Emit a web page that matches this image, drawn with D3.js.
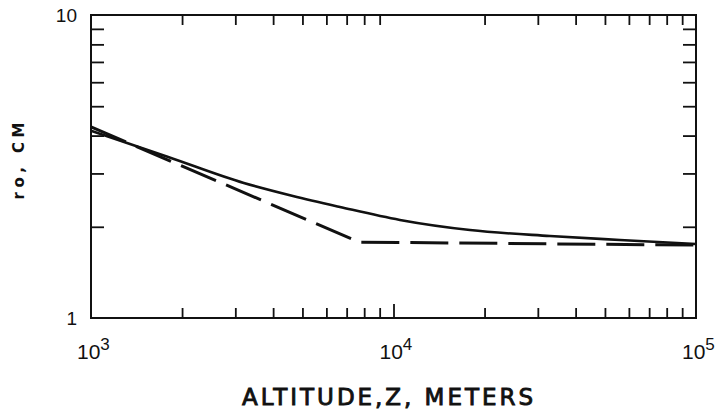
<!DOCTYPE html>
<html>
<head>
<meta charset="utf-8">
<script src="https://cdn.jsdelivr.net/npm/d3@7"></script>
<style>
  body { margin: 0; background: #fff; }
  svg { display: block; }
</style>
</head>
<body>
<div class="chart"></div>
<script>
// solid curve
const solidZ = [1000, 1800, 3200, 4650, 6650, 10500, 17900, 32900, 56100, 100000];
const solidR = [4.15, 3.40, 2.79, 2.527, 2.325, 2.106, 1.951, 1.865, 1.809, 1.755];
// dashed curve
const dashZ = [1000, 7700, 100000];
const dashR = [4.27, 1.78, 1.74];

const xMajor = [1e3, 1e4, 1e5];
const xExp = ["3", "4", "5"];
const yMajor = [1, 10];
const yMajorLabels = ["1", "10"];
const xMinor = [2000, 3000, 4000, 5000, 6000, 7000, 8000, 9000,
                20000, 30000, 40000, 50000, 60000, 70000, 80000, 90000];
const yMinor = [2, 3, 4, 5, 6, 7, 8, 9];

const W = 716, H = 415;
const plotL = 91, plotR = 696, plotT = 15, plotB = 318;

let x = d3.scaleLog().domain([1e3, 1e5]).range([plotL, plotR]);
let y = d3.scaleLog().domain([1, 10]).range([plotB, plotT]);

let svg = d3.select('.chart').append('svg').attr('width', W).attr('height', H);

// frame
svg.append('rect').attr('x', plotL).attr('y', plotT)
    .attr('width', plotR - plotL).attr('height', plotB - plotT)
    .attr('fill', 'none').attr('stroke', '#111').attr('stroke-width', 2);

function styleAxis(g){
    g.select('.domain').remove();
    g.selectAll('.tick line').attr('stroke', '#111').attr('stroke-width', 1.8);
}

// minor ticks, all pointing inward
svg.append('g').attr('transform', `translate(0,${plotB})`)
    .call(d3.axisBottom(x).tickValues(xMinor).tickSizeInner(-10).tickSizeOuter(0).tickFormat(''))
    .call(styleAxis);
svg.append('g').attr('transform', `translate(0,${plotT})`)
    .call(d3.axisTop(x).tickValues(xMinor).tickSizeInner(-10).tickSizeOuter(0).tickFormat(''))
    .call(styleAxis);
svg.append('g').attr('transform', `translate(0,${plotB})`)
    .call(d3.axisBottom(x).tickValues([1e4]).tickSizeInner(-14).tickSizeOuter(0).tickFormat(''))
    .call(styleAxis);
svg.append('g').attr('transform', `translate(${plotL},0)`)
    .call(d3.axisLeft(y).tickValues(yMinor).tickSizeInner(-13).tickSizeOuter(0).tickFormat(''))
    .call(styleAxis);
svg.append('g').attr('transform', `translate(${plotR},0)`)
    .call(d3.axisRight(y).tickValues(yMinor).tickSizeInner(-13).tickSizeOuter(0).tickFormat(''))
    .call(styleAxis);

// tick labels
let font = "'Liberation Sans', Arial, sans-serif";
xMajor.forEach((v, i) => {
    let t = svg.append('text').attr('x', x(v) - 14).attr('y', 359)
        .style('font-family', font).style('font-size', '21px').attr('fill', '#111');
    t.append('tspan').text('10');
    t.append('tspan').attr('dy', -9).style('font-size', '17px').text(xExp[i]);
});
yMajor.forEach((v, i) => {
    svg.append('text').attr('x', plotL - 14).attr('y', y(v) + 7)
        .attr('text-anchor', 'end')
        .style('font-family', font).style('font-size', '19px').attr('fill', '#111')
        .text(yMajorLabels[i]);
});

// axis titles
svg.append('text').attr('x', 242).attr('y', 405)
    .attr('textLength', 291).attr('lengthAdjust', 'spacing')
    .style('font-family', "'DejaVu Sans', sans-serif")
    .style('font-size', '23px').attr('fill', '#111')
    .attr('stroke', '#111').attr('stroke-width', 0.9)
    .text('ALTITUDE,Z, METERS');

svg.append('text').attr('transform', 'translate(24,161) rotate(-90)')
    .attr('text-anchor', 'middle')
    .attr('textLength', 77).attr('lengthAdjust', 'spacing')
    .style('font-family', "'DejaVu Sans', sans-serif").style('font-weight', 'bold')
    .style('font-size', '15px').attr('fill', '#111')
    .text('ro, CM');

// curves
let line = d3.line().x(d => x(d[0])).y(d => y(d[1]));

svg.append('path').datum(solidZ.map((z, i) => [z, solidR[i]]))
    .attr('d', line.curve(d3.curveMonotoneX))
    .attr('fill', 'none').attr('stroke', '#111').attr('stroke-width', 2.6);

svg.append('path').datum(dashZ.map((z, i) => [z, dashR[i]]))
    .attr('d', d3.line().x(d => x(d[0])).y(d => y(d[1])))
    .attr('fill', 'none').attr('stroke', '#111').attr('stroke-width', 3)
    .attr('stroke-dasharray', '38,11');
</script>
</body>
</html>
